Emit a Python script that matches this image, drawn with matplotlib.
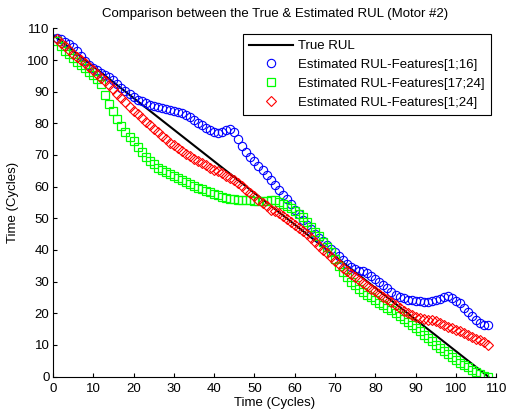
import matplotlib.pyplot as plt
import numpy as np

plt.rcParams['font.family'] = ['Liberation Sans', 'DejaVu Sans']

cycles = list(range(1, 109))

true_x = [0, 108]
true_y = [108, 0]

rul_f1_16 = [107, 106.5, 105.8, 105, 104, 102.8, 101.3, 99.8, 98.5, 97.5,
             96.7, 96, 95.3, 94.6, 93.6, 92.4, 91.3, 90.2, 89.2, 88.3,
             87.5, 86.9, 86.3, 85.8, 85.4, 85, 84.7, 84.4, 84.2, 84,
             83.7, 83.2, 82.6, 81.9, 81, 80.2, 79.4, 78.6, 77.9, 77.3,
             76.9, 77.1, 77.8, 78.3, 77.3, 75, 72.8, 71, 69.4, 68,
             66.6, 65.1, 63.7, 62.1, 60.5, 58.9, 57.5, 56.2, 54.4, 52.7,
             51.2, 49.6, 47.9, 46.6, 45.1, 43.9, 42.7, 41.5, 40.3, 39.2,
             38, 36.8, 35.6, 34.7, 34, 33.5, 33.2, 32.7, 31.8, 30.9,
             29.9, 28.9, 27.9, 26.8, 25.9, 25.2, 24.7, 24.3, 24.1, 23.9,
             23.8, 23.7, 23.7, 23.9, 24.2, 24.6, 25.1, 25.3, 24.8, 23.9,
             23.2, 21.8, 20.5, 19.1, 17.8, 16.8, 16.2, 16.3]

rul_f17_24 = [106, 104.3, 103, 101.8, 100.6, 99.5, 98.4, 97.4, 96.3, 95.3,
              94, 92.3, 89, 86, 83.8, 81.5, 79.2, 77.4, 75.8, 74.3,
              72.6, 71, 69.5, 68.2, 67, 66, 65.3, 64.6, 64, 63.4,
              62.7, 62, 61.4, 60.8, 60.2, 59.7, 59.2, 58.7, 58.2, 57.7,
              57.2, 56.8, 56.5, 56.2, 56, 55.9, 55.8, 55.8, 55.7, 55.6,
              55.5, 55.5, 55.6, 55.9, 55.9, 55.3, 54.6, 54, 53.1, 52.3,
              51.3, 50.3, 48.9, 47.1, 45.7, 44.3, 42.6, 41, 39.2, 37.2,
              35, 33, 31.3, 30, 28.8, 27.7, 26.7, 25.9, 25.1, 24.2,
              23.3, 22.5, 21.7, 20.9, 20, 19.1, 18.2, 17.3, 16.3, 15.3,
              14.3, 13.2, 12.1, 11.1, 10.1, 9.1, 8.1, 7.1, 6.1, 5.2,
              4.4, 3.7, 2.9, 2.1, 1.4, 0.8, 0.2, -0.2]

rul_f1_24 = [106.5, 105.4, 104.3, 103.1, 102, 101, 100, 98.9, 97.9, 96.8,
             95.6, 94.4, 93.3, 92, 90.7, 89.3, 88, 86.7, 85.3, 84,
             82.8, 81.6, 80.5, 79.4, 78.3, 77.2, 76.1, 75, 73.9, 73,
             72.1, 71.2, 70.4, 69.6, 68.8, 68.1, 67.4, 66.7, 66, 65.4,
             64.8, 64.2, 63.5, 62.8, 62, 61.2, 60.1, 59, 57.9, 56.9,
             55.8, 54.8, 53.8, 52.7, 52.2, 51.6, 50.7, 49.8, 48.9, 48,
             47, 46, 44.9, 43.7, 42.5, 41.3, 40.1, 38.9, 37.7, 36.5,
             35.4, 34.3, 33.3, 32.3, 31.3, 30.4, 29.5, 28.6, 27.7, 26.9,
             26.1, 25.2, 24.4, 23.5, 22.6, 21.6, 20.8, 20.1, 19.4, 18.9,
             18.5, 18.2, 18, 17.8, 17.4, 16.9, 16.3, 15.8, 15.3, 14.8,
             14.3, 13.7, 13.1, 12.5, 12, 11.5, 10.8, 10]

fig = plt.figure(figsize=(5.09, 4.17), dpi=100)
ax = fig.add_axes([0.104, 0.097, 0.871, 0.835])

ax.plot(true_x, true_y, color='k', linewidth=1.5, label='True RUL')
ax.plot(cycles, rul_f1_16, 'o', color='b', markerfacecolor='none',
        markersize=6, markeredgewidth=0.8, label='Estimated RUL-Features[1;16]')
ax.plot(cycles, rul_f17_24, 's', color='#00ff00', markerfacecolor='none',
        markersize=6, markeredgewidth=0.9, label='Estimated RUL-Features[17;24]')
ax.plot(cycles, rul_f1_24, 'D', color='r', markerfacecolor='none',
        markersize=5, markeredgewidth=0.8, label='Estimated RUL-Features[1;24]')

ax.set_xlim(0, 110)
ax.set_ylim(0, 110)
ax.set_xticks(np.arange(0, 111, 10))
ax.set_yticks(np.arange(0, 111, 10))
ax.tick_params(direction='in', length=3, labelsize=9.5, width=0.8)
ax.tick_params(axis='x', pad=4.5)
ax.tick_params(axis='y', pad=2.5)
ax.spines['top'].set_visible(False)
ax.spines['right'].set_visible(False)
ax.set_xlabel('Time (Cycles)', fontsize=9.5, labelpad=1.5)
ax.set_ylabel('Time (Cycles)', fontsize=9.5, labelpad=6)
ax.set_title('Comparison between the True & Estimated RUL (Motor #2)',
             fontsize=9.5, pad=8)

leg = ax.legend(loc='upper right', bbox_to_anchor=(491 / 509, 1 - 34 / 417),
                bbox_transform=fig.transFigure, fontsize=9.5, fancybox=False,
                edgecolor='k', framealpha=1, handlelength=3.3,
                handletextpad=0.45, labelspacing=0.5, borderpad=0.45,
                borderaxespad=0)
leg.get_frame().set_linewidth(0.8)

plt.savefig('out.png', dpi=100)
